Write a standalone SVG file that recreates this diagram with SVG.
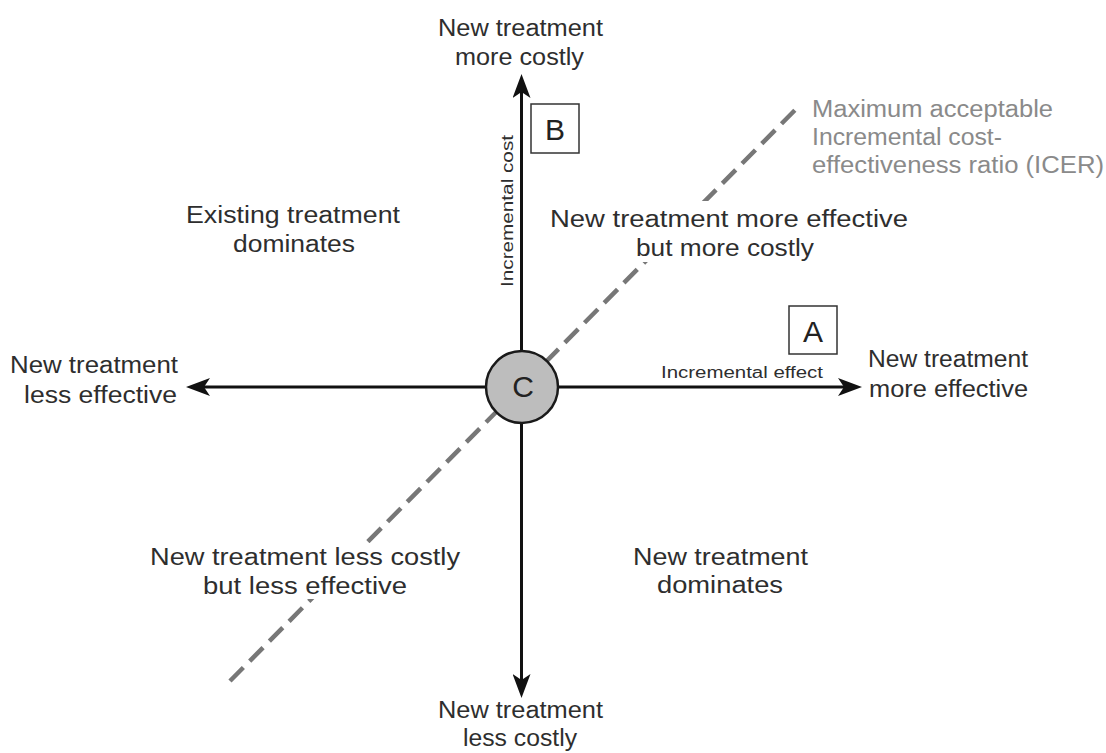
<svg xmlns="http://www.w3.org/2000/svg" width="1106" height="753" viewBox="0 0 1106 753">
<style>
.lbl{font-family:"Liberation Sans",Arial,Helvetica,sans-serif;font-size:23px;fill:#2e2e2e}
.sm{font-family:"Liberation Sans",Arial,Helvetica,sans-serif;font-size:16px;fill:#2e2e2e}
.icer{font-family:"Liberation Sans",Arial,Helvetica,sans-serif;font-size:23px;fill:#8a8a8a}
.big{font-family:"Liberation Sans",Arial,Helvetica,sans-serif;font-size:30px;fill:#222;text-anchor:middle}
.axis{stroke:#111;stroke-width:3;fill:none;marker-end:url(#ah)}
.box{fill:#fff;stroke:#333;stroke-width:1.5}
.knock{fill:#fff}
</style>
<defs>
<marker id="ah" viewBox="0 0 24 18" refX="14" refY="9" markerWidth="24" markerHeight="18" markerUnits="userSpaceOnUse" orient="auto">
<path d="M0,0 L24,9 L0,18 L6,9 Z" fill="#111"/>
</marker>
</defs>
<rect width="1106" height="753" fill="#fff"/>
<g id="connectors">
<line id="icer-line" x1="230" y1="681" x2="800" y2="105" stroke="#777" stroke-width="4.5" stroke-dasharray="19 9"/>
<line id="axis-up" class="axis" x1="521.5" y1="387" x2="521.5" y2="84"/>
<line id="axis-down" class="axis" x1="521.5" y1="387" x2="521.5" y2="688"/>
<line id="axis-left" class="axis" x1="522" y1="387" x2="196" y2="387"/>
<line id="axis-right" class="axis" x1="522" y1="387" x2="852" y2="387"/>
</g>
<g id="label-top">
<text class="lbl" x="438" y="36" textLength="165" lengthAdjust="spacingAndGlyphs">New treatment</text>
<text class="lbl" x="455" y="65" textLength="129" lengthAdjust="spacingAndGlyphs">more costly</text>
</g>
<g id="label-bottom">
<text class="lbl" x="438" y="718" textLength="165" lengthAdjust="spacingAndGlyphs">New treatment</text>
<text class="lbl" x="463" y="746" textLength="114" lengthAdjust="spacingAndGlyphs">less costly</text>
</g>
<g id="label-left">
<text class="lbl" x="10" y="373" textLength="168" lengthAdjust="spacingAndGlyphs">New treatment</text>
<text class="lbl" x="24" y="403" textLength="153" lengthAdjust="spacingAndGlyphs">less effective</text>
</g>
<g id="label-right">
<text class="lbl" x="868" y="367" textLength="160" lengthAdjust="spacingAndGlyphs">New treatment</text>
<text class="lbl" x="869" y="397" textLength="159" lengthAdjust="spacingAndGlyphs">more effective</text>
</g>
<g id="quad-existing-dominates">
<text class="lbl" x="186" y="223" textLength="214" lengthAdjust="spacingAndGlyphs">Existing treatment</text>
<text class="lbl" x="233" y="252" textLength="122" lengthAdjust="spacingAndGlyphs">dominates</text>
</g>
<g id="quad-more-effective-more-costly">
<rect class="knock" x="546" y="201" width="366" height="61"/>
<text class="lbl" x="550" y="227" textLength="358" lengthAdjust="spacingAndGlyphs">New treatment more effective</text>
<text class="lbl" x="636" y="256" textLength="178" lengthAdjust="spacingAndGlyphs">but more costly</text>
</g>
<g id="quad-less-costly-less-effective">
<rect class="knock" x="146" y="543" width="318" height="56"/>
<text class="lbl" x="150" y="565" textLength="310" lengthAdjust="spacingAndGlyphs">New treatment less costly</text>
<text class="lbl" x="203" y="594" textLength="204" lengthAdjust="spacingAndGlyphs">but less effective</text>
</g>
<g id="quad-new-dominates">
<text class="lbl" x="633" y="565" textLength="175" lengthAdjust="spacingAndGlyphs">New treatment</text>
<text class="lbl" x="657" y="593" textLength="126" lengthAdjust="spacingAndGlyphs">dominates</text>
</g>
<g id="icer-label">
<text class="icer" x="812" y="117" textLength="241" lengthAdjust="spacingAndGlyphs">Maximum acceptable</text>
<text class="icer" x="812" y="145" textLength="190" lengthAdjust="spacingAndGlyphs">Incremental cost-</text>
<text class="icer" x="812" y="173" textLength="292" lengthAdjust="spacingAndGlyphs">effectiveness ratio (ICER)</text>
</g>
<g id="axis-label-effect">
<text class="sm" x="661" y="378" textLength="162" lengthAdjust="spacingAndGlyphs">Incremental effect</text>
</g>
<g id="axis-label-cost">
<text class="sm" transform="translate(513 287) rotate(-90)" x="0" y="0" textLength="152" lengthAdjust="spacingAndGlyphs">Incremental cost</text>
</g>
<g id="node-B">
<rect class="box" x="531" y="104" width="48" height="49"/>
<text class="big" x="555" y="140">B</text>
</g>
<g id="node-A">
<rect class="box" x="789" y="306" width="48" height="48"/>
<text class="big" x="813" y="342">A</text>
</g>
<g id="node-C">
<circle cx="522" cy="387" r="36" fill="#bdbdbd" stroke="#1a1a1a" stroke-width="2.5"/>
<text class="big" x="523" y="397" font-size="28">C</text>
</g>
</svg>
